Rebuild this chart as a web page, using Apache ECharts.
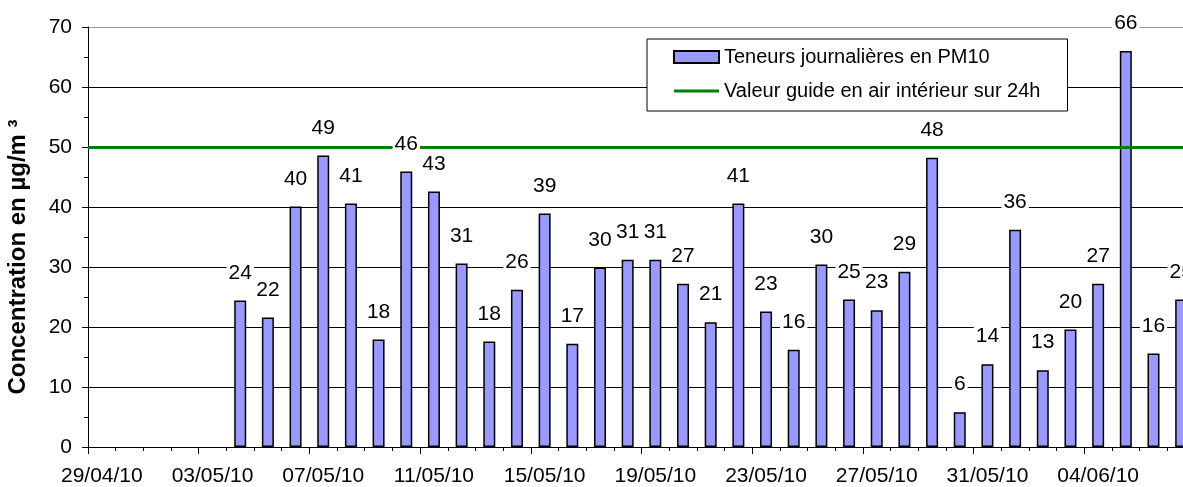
<!DOCTYPE html>
<html>
<head>
<meta charset="utf-8">
<script src="https://cdn.jsdelivr.net/npm/echarts@6/dist/echarts.min.js"></script>
<style>
  html, body { margin: 0; padding: 0; background: #fff; }
  #chart { width: 1183px; height: 487px; }
</style>
</head>
<body>
<div id="chart"></div>
<script>
// jours de mesure
const days = [
  '29/04/10', '30/04/10', '01/05/10', '02/05/10', '03/05/10', '04/05/10', '05/05/10', '06/05/10',
  '07/05/10', '08/05/10', '09/05/10', '10/05/10', '11/05/10', '12/05/10', '13/05/10', '14/05/10',
  '15/05/10', '16/05/10', '17/05/10', '18/05/10', '19/05/10', '20/05/10', '21/05/10', '22/05/10',
  '23/05/10', '24/05/10', '25/05/10', '26/05/10', '27/05/10', '28/05/10', '29/05/10', '30/05/10',
  '31/05/10', '01/06/10', '02/06/10', '03/06/10', '04/06/10', '05/06/10', '06/06/10', '07/06/10'
];
// teneurs journalières PM10 (µg/m3), pas de mesure avant le 04/05
const pm10 = [
  null, null, null, null, null, 24.4, 21.6, 40.1,
  48.6, 40.6, 17.9, 45.9, 42.6, 30.6, 17.6, 26.2,
  38.9, 17.2, 29.9, 31.2, 31.2, 27.2, 20.8, 40.6,
  22.6, 16.2, 30.4, 24.6, 22.8, 29.2, 48.2, 5.8,
  13.8, 36.2, 12.8, 19.6, 27.2, 66.0, 15.6, 24.6
];
const guideValue = 50;
const yTicks = [0, 10, 20, 30, 40, 50, 60, 70];

const barName = 'Teneurs journalières en PM10';
const lineName = 'Valeur guide en air intérieur sur 24h';
const font = "'Liberation Sans', Arial, sans-serif";

// trait vert fin centré dans la case de légende (45 x 12)
const lineIcon = 'path://M0,0 M45,12 M0,4.5 L45,4.5 L45,7.5 L0,7.5 Z';

const chart = echarts.init(document.getElementById('chart'));
const option = {
  animation: false,
  textStyle: { fontFamily: font },
  grid: { left: 88, right: -12, top: 27, bottom: 40, containLabel: false, outerBoundsMode: 'none' },
  legend: {
    orient: 'vertical',
    left: 647,
    top: 39,
    padding: [8, 27, 10, 26],
    itemWidth: 45,
    itemHeight: 12,
    itemGap: 14,
    borderColor: '#000',
    borderWidth: 1,
    backgroundColor: '#fff',
    textStyle: { fontSize: 20, color: '#000', fontFamily: font },
    data: [{ name: barName, icon: 'rect' }, { name: lineName, icon: lineIcon }]
  },
  xAxis: [
    {
      type: 'category',
      data: days,
      position: 'bottom',
      axisLine: { lineStyle: { color: '#000', width: 1 } },
      axisTick: { show: true, interval: 0, length: 4, lineStyle: { color: '#000' } },
      axisLabel: { interval: 3, fontSize: 21, color: '#000', margin: 19, fontFamily: font },
      splitLine: { show: false }
    },
    {
      type: 'category',
      data: days,
      position: 'bottom',
      axisLine: { show: false },
      axisTick: { show: true, interval: 3, length: 7, lineStyle: { color: '#000' } },
      axisLabel: { show: false },
      splitLine: { show: false }
    }
  ],
  yAxis: {
    type: 'value',
    min: yTicks[0],
    max: yTicks[yTicks.length - 1],
    interval: 10,
    name: 'Concentration en µg/m ³',
    nameLocation: 'middle',
    nameGap: 58,
    nameTextStyle: {
      fontSize: 24, fontWeight: 'bold', color: '#000', fontFamily: font,
      padding: [0, 40, 0, 0]
    },
    axisLine: { show: true, lineStyle: { color: '#000', width: 1 } },
    axisTick: { show: true, length: 6, lineStyle: { color: '#000' } },
    minorTick: { show: true, splitNumber: 2, length: 4, lineStyle: { color: '#000' } },
    axisLabel: { fontSize: 21, color: '#000', margin: 16, fontFamily: font },
    splitLine: {
      lineStyle: {
        color: ['#000', '#000', '#000', '#000', '#000', '#000', '#000', '#999'],
        width: 1
      }
    }
  },
  series: [
    {
      name: barName,
      type: 'bar',
      data: pm10,
      barWidth: 12,
      z: 2,
      itemStyle: { color: '#9999FF', borderColor: '#000', borderWidth: 1.5 }
    },
    {
      name: lineName,
      type: 'line',
      data: [],
      symbol: 'none',
      z: 3,
      lineStyle: { color: '#008000', width: 3 },
      itemStyle: { color: '#008000' },
      markLine: {
        silent: true,
        symbol: 'none',
        label: { show: false },
        lineStyle: { color: '#008000', width: 3, type: 'solid' },
        data: [{ yAxis: guideValue }]
      }
    },
    {
      // étiquettes de valeur, au-dessus de la ligne guide
      name: 'labels',
      type: 'bar',
      data: pm10,
      barWidth: 12,
      barGap: '-100%',
      z: 5,
      silent: true,
      itemStyle: { color: 'rgba(0,0,0,0)', borderWidth: 0 },
      label: {
        show: true,
        position: 'top',
        distance: 17,
        fontSize: 21,
        lineHeight: 21,
        color: '#000',
        backgroundColor: '#fff',
        padding: [0, 2],
        fontFamily: font,
        formatter: (p) => Math.round(p.value)
      }
    }
  ]
};
chart.setOption(option);
</script>
</body>
</html>
